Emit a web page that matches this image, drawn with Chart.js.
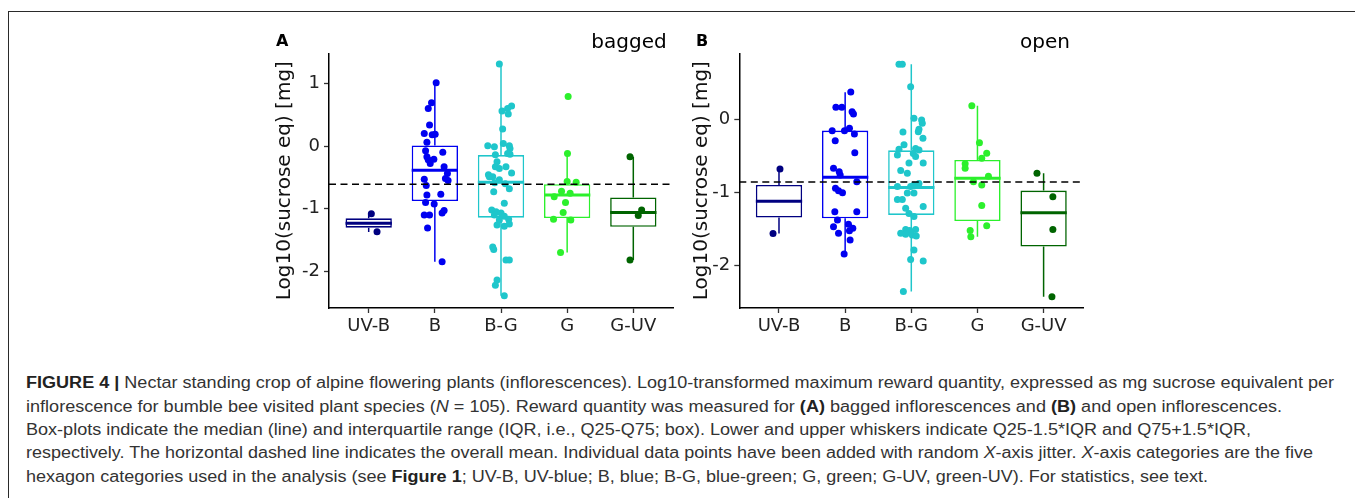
<!DOCTYPE html>
<html>
<head>
<meta charset="utf-8">
<script src="https://cdn.jsdelivr.net/npm/chart.js@4.4.1/dist/chart.umd.min.js"></script>
<style>
html,body{margin:0;padding:0;background:#fff;}
body{width:1355px;height:498px;position:relative;overflow:hidden;font-family:"DejaVu Sans",sans-serif;}
#frame{position:absolute;left:8px;top:11px;width:1400px;height:600px;border-left:1.3px solid #2a2a2a;border-top:1.3px solid #2a2a2a;}
canvas{position:absolute;}
.plab{position:absolute;font-family:"DejaVu Sans",sans-serif;color:#000;line-height:1;white-space:nowrap;}
.cap{position:absolute;left:26px;font-family:"Liberation Sans",Arial,sans-serif;font-size:16px;color:#333;white-space:nowrap;line-height:20px;transform-origin:0 50%;}
.cap b{color:#222;}
</style>
</head>
<body>
<div id="frame"></div>
<canvas id="chartA" width="415" height="320" style="left:265px;top:20px;width:415px;height:320px"></canvas>
<canvas id="chartB" width="408" height="320" style="left:682px;top:20px;width:408px;height:320px"></canvas>
<div class="plab" style="left:276px;top:33px;font-weight:bold;font-size:16px">A</div>
<div class="plab" style="left:666.7px;top:31px;font-size:20px;transform:translateX(-100%)">bagged</div>
<div class="plab" style="left:696px;top:33px;font-weight:bold;font-size:16px">B</div>
<div class="plab" style="left:1070px;top:31px;font-size:20px;transform:translateX(-100%)">open</div>

<div class="cap" style="top:373px"><b>FIGURE 4 |</b> Nectar standing crop of alpine flowering plants (inflorescences). Log10-transformed maximum reward quantity, expressed as mg sucrose equivalent per</div>
<div class="cap" style="top:396.6px">inflorescence for bumble bee visited plant species (<i>N</i> = 105). Reward quantity was measured for <b>(A)</b> bagged inflorescences and <b>(B)</b> and open inflorescences.</div>
<div class="cap" style="top:420px">Box-plots indicate the median (line) and interquartile range (IQR, i.e., Q25-Q75; box). Lower and upper whiskers indicate Q25-1.5*IQR and Q75+1.5*IQR,</div>
<div class="cap" style="top:443.3px">respectively. The horizontal dashed line indicates the overall mean. Individual data points have been added with random <i>X</i>-axis jitter. <i>X</i>-axis categories are the five</div>
<div class="cap" style="top:466.7px">hexagon categories used in the analysis (see <b>Figure 1</b>; UV-B, UV-blue; B, blue; B-G, blue-green; G, green; G-UV, green-UV). For statistics, see text.</div>

<script>
// ---------------- DATA ----------------
const categories = ["UV-B", "B", "B-G", "G", "G-UV"];
const yTicksBagged = [-2, -1, 0, 1];
const yTicksOpen = [-2, -1, 0];

// bagged box statistics
const baggedMin = [-1.372, -1.846, -2.39, -1.70, -1.82];
const baggedQ1  = [-1.303, -0.878, -1.144, -1.15, -1.29];
const baggedMed = [-1.233, -0.388, -0.58, -0.78, -1.06];
const baggedQ3  = [-1.153, 0.01, -0.144, -0.61, -0.82];
const baggedMax = [-1.085, 1.0, 1.31, -0.117, -0.17];
const baggedMean = -0.61;

// open box statistics
const openMin = [-1.566, -1.85, -2.36, -1.61, -2.43];
const openQ1  = [-1.347, -1.356, -1.31, -1.393, -1.744];
const openMed = [-1.123, -0.795, -0.936, -0.808, -1.28];
const openQ3  = [-0.90, -0.155, -0.425, -0.557, -0.977];
const openMax = [-0.68, 0.37, 0.753, 0.187, -0.74];
const openMean = -0.86;

// bagged points (values) and their x-jitter (category units)
const baggedUVB = [-1.08, -1.367];
const baggedUVBJitter = [0.04, 0.126];
const baggedB = [1.01, 0.69, 0.60, 0.335, 0.20, 0.18, 0.19, 0.06, -0.075, -0.10, -0.17, -0.21, -0.22, -0.28, -0.33, -0.44, -0.53, -0.52, -0.55, -0.63, -0.78, -0.77, -0.90, -0.925, -1.03, -1.07, -1.10, -1.10, -1.31, -1.845];
const baggedBJitter = [0.02, -0.05, -0.10, -0.08, -0.16, -0.04, 0.005, -0.12, -0.14, 0.12, -0.12, -0.015, -0.10, -0.07, 0.14, 0.19, -0.16, 0.16, 0.20, -0.13, -0.12, 0.09, -0.14, -0.01, 0.14, 0.11, -0.16, -0.08, -0.11, 0.11];
const baggedBG = [1.31, 0.64, 0.60, 0.56, 0.51, 0.27, 0.04, 0.005, -0.01, 0.005, -0.04, -0.12, -0.14, -0.13, -0.25, -0.33, -0.33, -0.36, -0.43, -0.46, -0.49, -0.49, -0.54, -0.585, -0.60, -0.68, -0.73, -0.915, -1.02, -1.05, -1.07, -1.10, -1.12, -1.18, -1.17, -1.245, -1.26, -1.28, -1.61, -1.65, -1.82, -1.82, -2.14, -2.22, -2.39];
const baggedBGJitter = [-0.025, 0.16, 0.10, 0.015, 0.11, 0.025, 0.035, -0.20, -0.10, 0.126, 0.136, 0.10, -0.085, 0.136, -0.06, 0.075, -0.085, -0.025, 0.16, -0.19, -0.125, -0.176, -0.025, -0.095, 0.065, 0.126, -0.11, 0.05, -0.14, -0.075, 0.0, -0.10, 0.05, -0.025, 0.116, 0.126, -0.06, 0.05, -0.125, -0.11, 0.075, 0.126, -0.06, -0.085, 0.05];
const baggedG = [0.79, -0.12, -0.565, -0.58, -0.72, -0.755, -0.81, -0.90, -1.06, -1.17, -1.18, -1.70];
const baggedGJitter = [0.015, 0.005, 0.0, 0.136, -0.085, 0.045, -0.196, -0.025, -0.06, -0.206, 0.055, -0.10];
const baggedGUV = [-0.17, -1.02, -1.11, -1.82];
const baggedGUVJitter = [-0.05, 0.126, 0.075, -0.05];

// open points (values) and their x-jitter (category units)
const openUVB = [-0.68, -1.566];
const openUVBJitter = [0.015, -0.09];
const openB = [0.374, 0.164, 0.164, 0.104, 0.073, -0.156, -0.156, -0.123, -0.201, -0.293, -0.457, -0.671, -0.717, -0.763, -0.854, -0.945, -0.978, -1.005, -1.265, -1.265, -1.379, -1.471, -1.438, -1.493, -1.562, -1.526, -1.653, -1.845];
const openBJitter = [0.085, -0.14, -0.05, 0.105, 0.126, -0.196, -0.01, 0.065, 0.14, -0.15, 0.146, -0.176, -0.09, -0.075, 0.176, -0.146, -0.10, -0.04, -0.156, 0.176, -0.116, -0.176, 0.05, 0.116, -0.10, 0.065, 0.075, -0.015];
const openBG = [0.753, 0.753, 0.447, 0.014, -0.01, -0.055, -0.137, -0.17, -0.174, -0.26, -0.35, -0.41, -0.49, -0.40, -0.42, -0.47, -0.51, -0.60, -0.60, -0.70, -0.74, -0.88, -0.90, -0.92, -0.92, -1.01, -1.01, -1.10, -1.10, -1.196, -1.22, -1.29, -1.33, -1.51, -1.51, -1.525, -1.56, -1.575, -1.585, -1.60, -1.79, -1.92, -1.94, -2.36];
const openBGJitter = [-0.186, -0.136, -0.01, 0.04, 0.156, 0.166, 0.116, 0.106, -0.126, 0.176, -0.11, -0.186, -0.21, 0.065, 0.116, 0.03, 0.065, -0.035, 0.18, -0.16, -0.06, 0.116, 0.04, -0.21, -0.01, -0.06, 0.04, -0.21, -0.136, 0.18, -0.085, -0.035, 0.04, 0.065, -0.085, -0.025, -0.16, -0.085, 0.015, 0.075, 0.04, -0.01, 0.18, -0.12];
const openG = [0.187, -0.32, -0.466, -0.534, -0.61, -0.67, -0.78, -0.854, -0.90, -1.18, -1.46, -1.525, -1.61];
const openGJitter = [-0.085, 0.03, 0.14, 0.065, -0.186, -0.186, 0.166, -0.06, 0.065, 0.065, 0.14, -0.11, -0.10];
const openGUV = [-0.74, -1.06, -1.51, -2.43];
const openGUVJitter = [-0.10, 0.14, 0.14, 0.126];

// ---------------- STYLE ----------------
const colors = ["#000080", "#0000f0", "#1fc6cb", "#2cf02c", "#006400"];
const X_MIN = -0.6, X_MAX = 4.6, BOX_HALF = 0.35;
Chart.defaults.font.family = "DejaVu Sans";

function buildChart(canvasId, s) {
  const ds = [];
  ds.push({type: 'line', data: [{x: X_MIN, y: s.mean}, {x: X_MAX, y: s.mean}],
    borderColor: '#000', borderWidth: 1.4, borderDash: [7, 4.5], pointRadius: 0, fill: false, order: 0});
  categories.forEach((c, i) => {
    ds.push({type: 'scatter', data: s.pts[i].map((v, k) => ({x: i + s.jit[i][k], y: v})),
      backgroundColor: colors[i], borderWidth: 0, pointRadius: 3.5, pointHoverRadius: 3.5, order: 1});
    ds.push({type: 'line', data: [{x: i - BOX_HALF, y: s.med[i]}, {x: i + BOX_HALF, y: s.med[i]}],
      borderColor: colors[i], borderWidth: 3, pointRadius: 0, fill: false, borderCapStyle: 'butt', order: 2});
  });
  ds.push({type: 'bar', data: categories.map((c, i) => ({x: i, y: [s.q1[i], s.q3[i]]})),
    backgroundColor: '#fff', borderColor: colors, borderWidth: 1.6, borderSkipped: false,
    grouped: false, barPercentage: 0.7, categoryPercentage: 1, order: 3});
  ds.push({type: 'bar', data: categories.map((c, i) => ({x: i, y: [s.min[i], s.q1[i]]})),
    backgroundColor: colors, borderWidth: 0, grouped: false, maxBarThickness: 1.5, order: 4});
  ds.push({type: 'bar', data: categories.map((c, i) => ({x: i, y: [s.q3[i], s.max[i]]})),
    backgroundColor: colors, borderWidth: 0, grouped: false, maxBarThickness: 1.5, order: 4});

  return new Chart(document.getElementById(canvasId), {
    type: 'bar',
    data: {datasets: ds},
    options: {
      responsive: false, animation: false, events: [],
      layout: {padding: {left: 0, top: s.padTop, right: s.padRight, bottom: 0}},
      plugins: {legend: {display: false}, tooltip: {enabled: false}},
      scales: {
        x: {
          type: 'linear', min: X_MIN, max: X_MAX, offset: false,
          afterBuildTicks: sc => { sc.ticks = categories.map((c, i) => ({value: i})); },
          afterFit: sc => { sc.height = 32; },
          ticks: {callback: v => categories[v], font: {size: 18}, color: '#222', padding: 3, maxRotation: 0, autoSkip: false},
          grid: {display: true, drawOnChartArea: false, drawTicks: true, tickLength: 5, tickColor: '#333', tickWidth: 1.3, offset: false},
          border: {display: true, color: '#000', width: 1.5}
        },
        y: {
          type: 'linear', min: s.yMin, max: s.yMax,
          afterBuildTicks: sc => { sc.ticks = s.yTicks.map(v => ({value: v})); },
          afterFit: sc => { sc.width = s.yWidth; },
          ticks: {callback: v => String(v), font: {size: 18}, color: '#222', padding: 4},
          grid: {display: true, drawOnChartArea: false, drawTicks: true, tickLength: 5, tickColor: '#333', tickWidth: 1.3},
          border: {display: true, color: '#000', width: 1.5},
          title: {display: true, text: 'Log10(sucrose eq) [mg]', font: {size: 20}, color: '#111', padding: {top: s.titlePad, bottom: 0}}
        }
      }
    }
  });
}

buildChart('chartA', {
  min: baggedMin, q1: baggedQ1, med: baggedMed, q3: baggedQ3, max: baggedMax, mean: baggedMean,
  pts: [baggedUVB, baggedB, baggedBG, baggedG, baggedGUV],
  jit: [baggedUVBJitter, baggedBJitter, baggedBGJitter, baggedGJitter, baggedGUVJitter],
  yMin: -2.585, yMax: 1.48, yTicks: yTicksBagged, yWidth: 64, titlePad: 8, padTop: 33.3, padRight: 7
});
buildChart('chartB', {
  min: openMin, q1: openQ1, med: openMed, q3: openQ3, max: openMax, mean: openMean,
  pts: [openUVB, openB, openBG, openG, openGUV],
  jit: [openUVBJitter, openBJitter, openBGJitter, openGJitter, openGUVJitter],
  yMin: -2.585, yMax: 0.904, yTicks: yTicksOpen, yWidth: 57.3, titlePad: 7.7, padTop: 33.3, padRight: 6.7
});

// fit caption lines to the reference line widths
const capRight = [1334, 1282, 1251, 1313, 1208];
document.querySelectorAll('.cap').forEach((el, i) => {
  const w = el.getBoundingClientRect().width;
  el.style.transform = 'scaleX(' + ((capRight[i] - 26) / w) + ')';
});
</script>
</body>
</html>
